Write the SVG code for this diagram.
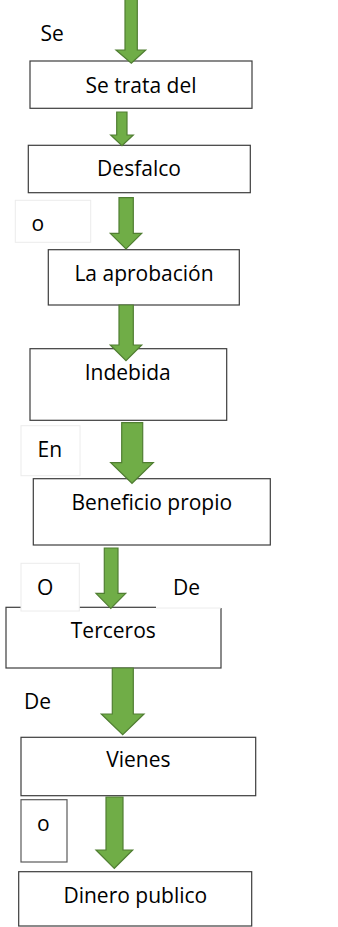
<svg xmlns="http://www.w3.org/2000/svg" width="338" height="927" viewBox="0 0 338 927">
<style>
.box{fill:#fff;stroke:#3c3c3c;stroke-width:1.2}
.lbl{fill:#fff;stroke:#ececec;stroke-width:1}
.lbl2{fill:#fff;stroke:#5a5a5a;stroke-width:1.2}
.t{font-family:"Open Sans","Noto Sans","DejaVu Sans",sans-serif;font-size:21px;fill:#000}
.m{text-anchor:middle}
.arr{fill:#70AD47;stroke:#507E32;stroke-width:1.2;stroke-linejoin:miter}
</style>
<rect width="338" height="927" fill="#fff"/>
<g id="label-se"><text class="t" x="40.5" y="40.7">Se</text></g>
<g id="node-se-trata-del"><rect class="box" x="30" y="61" width="222" height="47.3"/><text class="t m" x="141" y="92.7">Se trata del</text></g>
<g id="node-desfalco"><rect class="box" x="28.3" y="145.3" width="222" height="47.4"/><text class="t m" x="139" y="176">Desfalco</text></g>
<g id="label-o1"><rect class="lbl" x="15.3" y="200.3" width="75.4" height="42"/><text class="t" x="31.5" y="231">o</text></g>
<g id="node-la-aprobacion"><rect class="box" x="48.3" y="249.7" width="191" height="55.3"/><text class="t m" x="144" y="281">La aprobación</text></g>
<g id="node-indebida"><rect class="box" x="30" y="348.7" width="196.7" height="71.6"/><text class="t m" x="127.7" y="380">Indebida</text></g>
<g id="label-en"><rect class="lbl" x="21" y="425.7" width="59" height="50"/><text class="t" x="37.5" y="457.3">En</text></g>
<g id="node-beneficio-propio"><rect class="box" x="33.3" y="478.7" width="237" height="66.3"/><text class="t m" x="151.8" y="510">Beneficio propio</text></g>
<g id="node-terceros"><rect class="box" x="6" y="607.3" width="215" height="60.7"/><text class="t m" x="113.3" y="638.3">Terceros</text></g>
<g id="label-o2"><rect class="lbl" x="21" y="563.3" width="58.3" height="47.7"/><text class="t" x="37" y="595">O</text></g>
<g id="label-de1"><rect x="156" y="570" width="70" height="38" fill="#fff"/><line x1="156" y1="608" x2="221" y2="608" stroke="#ececec" stroke-width="1"/><text class="t" x="173" y="595">De</text></g>
<g id="label-de2"><text class="t" x="24" y="709">De</text></g>
<g id="node-vienes"><rect class="box" x="21" y="737.3" width="234.7" height="58.4"/><text class="t m" x="138.3" y="767">Vienes</text></g>
<g id="label-o3"><rect class="lbl2" x="21" y="799.7" width="46" height="62.3"/><text class="t" x="37" y="830.7">o</text></g>
<g id="node-dinero-publico"><rect class="box" x="18.7" y="871.7" width="233" height="54.3"/><text class="t m" x="135.3" y="903.3">Dinero publico</text></g>
<g id="connectors">
<polygon class="arr" points="125,-2 137.3,-2 137.3,50 145.7,50 131.3,63.3 116,50 125,50"/>
<polygon class="arr" points="116.7,112 127,112 127,135 133.3,135 122,145.7 110.7,135 116.7,135"/>
<polygon class="arr" points="119,197.7 133.3,197.7 133.3,233.3 141.7,233.3 126,249 110.3,233.3 119,233.3"/>
<polygon class="arr" points="119,305 133.3,305 133.3,345 141.7,345 126,360.7 110.3,345 119,345"/>
<polygon class="arr" points="121.7,422.7 142.7,422.7 142.7,462.7 153.3,462.7 132,483.3 110.7,462.7 121.7,462.7"/>
<polygon class="arr" points="104.3,548 118,548 118,593.3 125.7,593.3 110.8,608.3 96,593.3 104.3,593.3"/>
<polygon class="arr" points="112.3,668 133.3,668 133.3,714 144,714 122.7,734.7 101.3,714 112.3,714"/>
<polygon class="arr" points="106,797 123,797 123,850 132.7,850 114.3,868.3 96,850 106,850"/>
</g>
</svg>
